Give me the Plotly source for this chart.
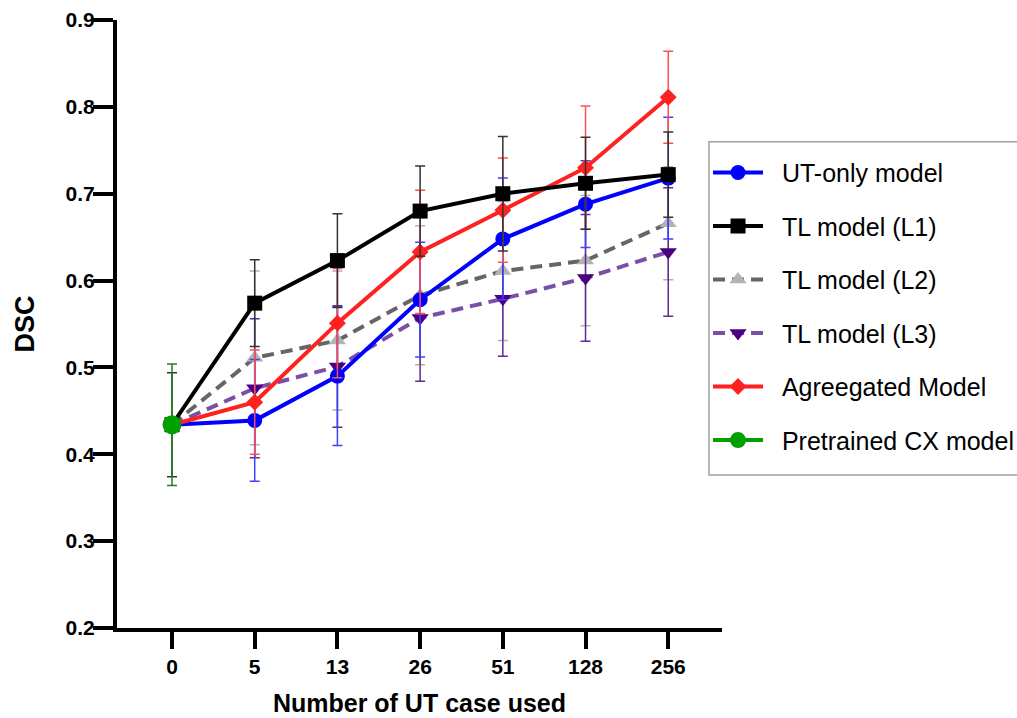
import plotly.graph_objects as go

categories = ["0", "5", "13", "26", "51", "128", "256"]

ut_only = [0.434, 0.439, 0.490, 0.578, 0.648, 0.688, 0.718]
ut_only_err = [0.0, 0.07, 0.08, 0.066, 0.07, 0.05, 0.07]

tl_l1 = [0.434, 0.574, 0.623, 0.680, 0.700, 0.712, 0.722]
tl_l1_err = [0.06, 0.05, 0.054, 0.052, 0.066, 0.053, 0.049]

tl_l2 = [0.434, 0.511, 0.531, 0.583, 0.611, 0.623, 0.666]
tl_l2_err = [0.0, 0.10, 0.08, 0.08, 0.08, 0.075, 0.065]

tl_l3 = [0.434, 0.476, 0.501, 0.557, 0.579, 0.603, 0.633]
tl_l3_err = [0.0, 0.08, 0.07, 0.073, 0.066, 0.073, 0.074]

aggregated = [0.434, 0.460, 0.551, 0.633, 0.681, 0.730, 0.811]
aggregated_err = [0.0, 0.06, 0.063, 0.071, 0.06, 0.071, 0.053]

pretrained_x = ["0"]
pretrained = [0.434]
pretrained_err = [0.07]

yticks = [0.2, 0.3, 0.4, 0.5, 0.6, 0.7, 0.8, 0.9]
ytick_labels = ["0.2", "0.3", "0.4", "0.5", "0.6", "0.7", "0.8", "0.9"]

PAD = "\u00a0\u00a0"

series = [
    # name, y, err, line color, marker color, err color, symbol, size, dash, rank
    ("TL model (L2)", tl_l2, tl_l2_err, "#666666", "#b3b3b3", "#b0b0b0", "triangle-up", 15, "12px,7px", 3),
    ("TL model (L3)", tl_l3, tl_l3_err, "#7a4fa8", "#4b0082", "#5b2d95", "triangle-down", 15, "12px,7px", 4),
    ("UT-only model", ut_only, ut_only_err, "#0000ff", "#0000ff", "#4040ff", "circle", 15, "solid", 1),
    ("Agreegated Model", aggregated, aggregated_err, "#ff2020", "#ff2020", "#ff5050", "diamond", 13, "solid", 5),
    ("TL model (L1)", tl_l1, tl_l1_err, "#000000", "#000000", "#333333", "square", 15, "solid", 2),
]

fig = go.Figure()
for name, y, err, lc, mc, ec, sym, sz, dash, rank in series:
    fig.add_trace(go.Scatter(
        x=categories, y=y, name=PAD + name, mode="lines+markers",
        line=dict(color=lc, width=4, dash=dash),
        marker=dict(color=mc, symbol=sym, size=sz, line=dict(width=0)),
        error_y=dict(type="data", array=err, visible=True, color=ec, thickness=1.5, width=5),
        legendrank=rank, legendgroup=name,
    ))

fig.add_trace(go.Scatter(
    x=pretrained_x, y=pretrained, name=PAD + "Pretrained CX model", mode="lines+markers",
    line=dict(color="#00a000", width=4),
    marker=dict(color="#00a000", symbol="circle", size=19),
    error_y=dict(type="data", array=pretrained_err, visible=True, color="#208020", thickness=1.5, width=5),
    legendrank=6, legendgroup="pre",
))

# legend frame (extends past the right edge like the reference)
fig.add_shape(type="rect", xref="paper", yref="paper",
              x0=0.9785, x1=1.6, y0=0.2516, y1=0.7998,
              line=dict(color="#a0a0a0", width=1.5), fillcolor="rgba(0,0,0,0)")

fig.update_layout(
    width=1017, height=718,
    margin=dict(l=117, r=295, t=20, b=90, autoexpand=False),
    paper_bgcolor="white", plot_bgcolor="white",
    font=dict(family="Liberation Sans, Arial, sans-serif", color="black"),
    legend=dict(
        x=0.9769, y=0.7865, xanchor="left", yanchor="top",
        borderwidth=0, bgcolor="rgba(0,0,0,0)",
        font=dict(size=25, color="black"),
        itemwidth=50, tracegroupgap=18, traceorder="grouped",
    ),
    showlegend=True,
)

fig.update_xaxes(
    type="category", range=[-0.665, 6.65],
    showline=True, linecolor="black", linewidth=4,
    ticks="outside", ticklen=17, tickwidth=4, tickcolor="black",
    tickfont=dict(size=21, weight="bold"),
    showgrid=False, zeroline=False,
    title=dict(text="Number of UT case used", font=dict(size=25, weight="bold"), standoff=18),
)
fig.update_yaxes(
    range=[0.2, 0.9], tickvals=yticks, ticktext=ytick_labels,
    showline=True, linecolor="black", linewidth=4,
    ticks="outside", ticklen=20, tickwidth=4, tickcolor="black",
    tickfont=dict(size=21, weight="bold"), ticklabelstandoff=-6,
    showgrid=False, zeroline=False,
    title=dict(text="DSC", font=dict(size=27, weight="bold"), standoff=24),
)

fig.write_html("out.html")
